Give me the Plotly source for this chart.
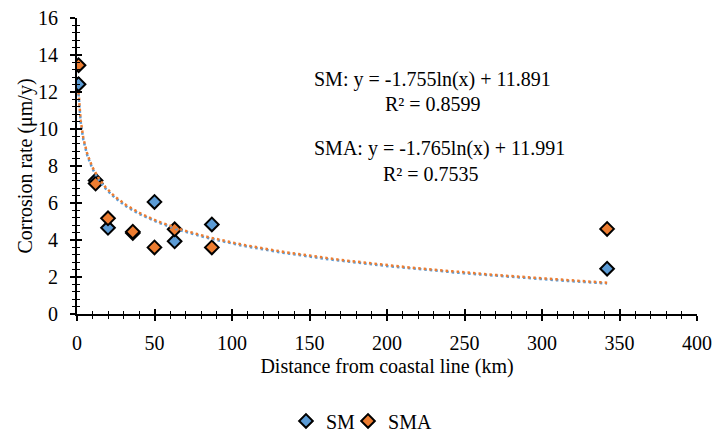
import numpy as np
import plotly.graph_objects as go

# ---- data ----
distance_km = [1, 12, 20, 36, 50, 63, 87, 342]
sm_rate = [12.42, 7.22, 4.66, 4.38, 6.06, 3.93, 4.84, 2.45]
sma_rate = [13.45, 7.05, 5.17, 4.45, 3.60, 4.58, 3.60, 4.60]

# log trendline coefficients (y = a ln(x) + b) as displayed
sm_fit = [-1.755, 11.891]
sma_fit = [-1.765, 11.991]
sm_r2 = "0.8599"
sma_r2 = "0.7535"

x_ticks = [0, 50, 100, 150, 200, 250, 300, 350, 400]
y_ticks = [0, 2, 4, 6, 8, 10, 12, 14, 16]

BLUE = "#5B9BD5"
ORANGE = "#ED7D31"
FONT = "Times New Roman, Liberation Serif, serif"
FS = 20

xt = np.geomspace(min(distance_km), max(distance_km), 300)

fig = go.Figure()
fig.add_trace(go.Scatter(
    x=distance_km, y=sm_rate, mode="markers", name="SM", legend="legend",
    marker=dict(symbol="diamond", size=10.5, color=BLUE, line=dict(color="black", width=2)),
))
fig.add_trace(go.Scatter(
    x=distance_km, y=sma_rate, mode="markers", name="SMA", legend="legend2",
    marker=dict(symbol="diamond", size=10.5, color=ORANGE, line=dict(color="black", width=2)),
))
fig.add_trace(go.Scatter(
    x=xt, y=sm_fit[0] * np.log(xt) + sm_fit[1], mode="lines", showlegend=False,
    line=dict(color=BLUE, width=2.5, dash="2.5px,3px"), hoverinfo="skip",
))
fig.add_trace(go.Scatter(
    x=xt, y=sma_fit[0] * np.log(xt) + sma_fit[1], mode="lines", showlegend=False,
    line=dict(color=ORANGE, width=2.5, dash="2.5px,3px"), hoverinfo="skip",
))
# invisible trace to instantiate the overlay axes used for inward ticks
fig.add_trace(go.Scatter(
    x=distance_km, y=sm_rate, mode="markers", xaxis="x2", yaxis="y2",
    marker=dict(opacity=0), showlegend=False, hoverinfo="skip",
))

def fmt(v):
    return f"{v:.3f}"

ann_font = dict(family=FONT, size=FS, color="black")
fig.add_annotation(x=151.4, y=12.65, xref="x", yref="y", showarrow=False, xanchor="left",
                   text=f"SM: y = {fmt(sm_fit[0])}ln(x) + {fmt(sm_fit[1])}", font=ann_font)
fig.add_annotation(x=229.7, y=11.37, xref="x", yref="y", showarrow=False, xanchor="center",
                   text=f"R² = {sm_r2}", font=ann_font)
fig.add_annotation(x=151.4, y=8.96, xref="x", yref="y", showarrow=False, xanchor="left",
                   text=f"SMA: y = {fmt(sma_fit[0])}ln(x) + {fmt(sma_fit[1])}", font=ann_font)
fig.add_annotation(x=228.1, y=7.58, xref="x", yref="y", showarrow=False, xanchor="center",
                   text=f"R² = {sma_r2}", font=ann_font)

axis_common = dict(
    showgrid=False, zeroline=False, showline=True, linecolor="black", linewidth=1.8,
    tickcolor="black", tickwidth=1.5, ticklen=5, automargin=False,
    tickfont=dict(family=FONT, size=FS, color="black"),
)

legend_common = dict(
    orientation="h", xref="container", yref="container",
    xanchor="left", y=0.0255, yanchor="middle",
    font=dict(family=FONT, size=FS, color="black"), itemwidth=30,
    bgcolor="rgba(0,0,0,0)",
)

fig.update_layout(
    width=713, height=432,
    margin=dict(l=77, r=16, t=18, b=118),
    paper_bgcolor="white", plot_bgcolor="white",
    font=dict(family=FONT, size=FS, color="black"),
    xaxis=dict(
        range=[0, 400], tickvals=x_ticks, ticks="outside", ticklabelstandoff=5,
        minor=dict(ticks="outside", ticklen=3, dtick=10, tick0=0, tickcolor="black", tickwidth=1.2),
        title=dict(text="Distance from coastal line (km)", font=dict(family=FONT, size=FS), standoff=6),
        **axis_common,
    ),
    yaxis=dict(
        range=[0, 16], tickvals=y_ticks, ticks="outside", ticklabelstandoff=8,
        minor=dict(ticks="outside", ticklen=3, dtick=0.4, tick0=0, tickcolor="black", tickwidth=1.2),
        title=dict(text="Corrosion rate (μm/y)", font=dict(family=FONT, size=FS), standoff=0),
        **axis_common,
    ),
    xaxis2=dict(
        overlaying="x", anchor="y2", range=[0, 400], tickvals=x_ticks, ticks="inside",
        ticklen=5, tickwidth=1.5, tickcolor="black", showticklabels=False, showgrid=False,
        zeroline=False, showline=False, automargin=False,
        minor=dict(ticks="inside", ticklen=3, dtick=10, tick0=0, tickcolor="black", tickwidth=1.2),
    ),
    yaxis2=dict(
        overlaying="y", anchor="x2", range=[0, 16], tickvals=y_ticks, ticks="inside",
        ticklen=5, tickwidth=1.5, tickcolor="black", showticklabels=False, showgrid=False,
        zeroline=False, showline=False, automargin=False,
        minor=dict(ticks="inside", ticklen=3, dtick=0.4, tick0=0, tickcolor="black", tickwidth=1.2),
    ),
    legend=dict(x=0.4011, **legend_common),
    legend2=dict(x=0.4881, **legend_common),
    showlegend=True,
)

fig.write_html("out.html")
